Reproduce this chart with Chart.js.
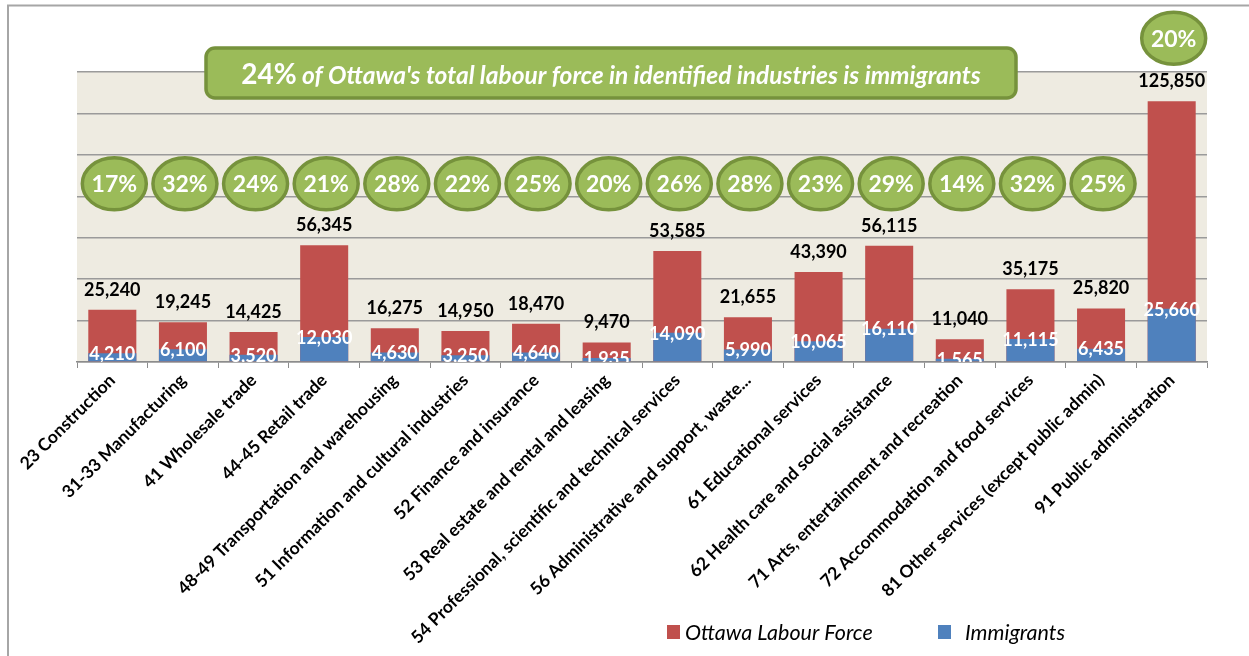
<!DOCTYPE html>
<html>
<head>
<meta charset="utf-8">
<script src="https://cdn.jsdelivr.net/npm/chart.js@4/dist/chart.umd.min.js"></script>
<style>
  body { margin: 0; background: #fff; }
  #wrap { width: 1249px; height: 656px; position: relative; }
</style>
</head>
<body>
<div id="wrap"><canvas id="labourChart"></canvas></div>
<script>
const industries = [
    "23 Construction",
    "31-33 Manufacturing",
    "41 Wholesale trade",
    "44-45 Retail trade",
    "48-49 Transportation and warehousing",
    "51 Information and cultural industries",
    "52 Finance and insurance",
    "53 Real estate and rental and leasing",
    "54 Professional, scientific and technical services",
    "56 Administrative and support, waste...",
    "61 Educational services",
    "62 Health care and social assistance",
    "71 Arts, entertainment and recreation",
    "72 Accommodation and food services",
    "81 Other services (except public admin)",
    "91 Public administration"
];
const labourForce = [25240, 19245, 14425, 56345, 16275, 14950, 18470, 9470, 53585, 21655, 43390, 56115, 11040, 35175, 25820, 125850];
const immigrants = [4210, 6100, 3520, 12030, 4630, 3250, 4640, 1935, 14090, 5990, 10065, 16110, 1565, 11115, 6435, 25660];
const immigrantShare = ["17%", "32%", "24%", "21%", "28%", "22%", "25%", "20%", "26%", "28%", "23%", "29%", "14%", "32%", "25%", "20%"];
const yMin = 0;
const yMax = 140000;
const yStep = 20000;
const badgeLevel = 86000;
const headlineShare = "24%";
const headlineText = " of Ottawa's total labour force in identified industries is immigrants";

const RED = "#C0504D";
const BLUE = "#4F81BD";
const GREEN = "#9BBB59";
const GREEN_DARK = "#76923C";
const FONT = "Lato, 'Open Sans', sans-serif";

const fmt = v => v.toLocaleString("en-US");

const overlay = {
    id: "overlay",
    beforeDraw(chart) {
        const { ctx, chartArea: a } = chart;
        ctx.save();
        ctx.fillStyle = "#fff";
        ctx.fillRect(0, 0, chart.width, chart.height);
        ctx.fillStyle = "#EEEBE1";
        ctx.fillRect(a.left, a.top, a.right - a.left, a.bottom - a.top);
        ctx.restore();
    },
    afterDatasetsDraw(chart) {
        const { ctx, chartArea: a } = chart;
        const totals = chart.getDatasetMeta(0).data;
        const imms = chart.getDatasetMeta(1).data;
        ctx.save();
        ctx.textAlign = "center";
        ctx.textBaseline = "middle";

        // totals above red bars
        ctx.fillStyle = "#000";
        ctx.font = "bold 18px " + FONT;
        totals.forEach((bar, i) => {
            ctx.fillText(fmt(labourForce[i]), bar.x, bar.y - 20);
        });

        // immigrant values at top of blue bars (clipped to plot area)
        ctx.save();
        ctx.beginPath();
        ctx.rect(a.left, a.top, a.right - a.left, a.bottom - a.top);
        ctx.clip();
        ctx.fillStyle = "#fff";
        ctx.font = "bold 18px " + FONT;
        imms.forEach((bar, i) => {
            ctx.fillText(fmt(immigrants[i]), bar.x, bar.y + 1);
        });
        ctx.restore();

        // share badges
        const yScale = chart.scales.y;
        const levelY = yScale.getPixelForValue(badgeLevel);
        totals.forEach((bar, i) => {
            let cy = levelY;
            if (bar.y - 32 < levelY + 27) cy = bar.y - 63;
            ctx.beginPath();
            ctx.ellipse(bar.x + 2, cy, 32, 26, 0, 0, Math.PI * 2);
            ctx.fillStyle = GREEN;
            ctx.fill();
            ctx.lineWidth = 3.5;
            ctx.strokeStyle = GREEN_DARK;
            ctx.stroke();
            ctx.fillStyle = "#fff";
            ctx.font = "bold 23px " + FONT;
            ctx.fillText(immigrantShare[i], bar.x + 2, cy + 1);
        });
        ctx.restore();
    },
    afterDraw(chart) {
        const { ctx } = chart;
        ctx.save();

        // headline banner
        const bx = 206, by = 48, bw = 810, bh = 50;
        ctx.beginPath();
        ctx.roundRect(bx, by, bw, bh, 9);
        ctx.fillStyle = GREEN;
        ctx.fill();
        ctx.lineWidth = 3.5;
        ctx.strokeStyle = GREEN_DARK;
        ctx.stroke();

        ctx.fillStyle = "#fff";
        ctx.textBaseline = "alphabetic";
        ctx.textAlign = "left";
        const f1 = "bold 28px " + FONT;
        const f2 = "italic bold 24.5px " + FONT;
        ctx.font = f1;
        const w1 = ctx.measureText(headlineShare).width;
        ctx.font = f2;
        const w2 = ctx.measureText(headlineText).width;
        let tx = bx + bw / 2 - (w1 + w2) / 2;
        ctx.font = f1;
        ctx.fillText(headlineShare, tx, 84);
        ctx.font = f2;
        ctx.fillText(headlineText, tx + w1, 84);

        // legend
        const items = chart.data.datasets;
        const legendX = [667, 938];
        const legendTextX = [685, 965];
        ctx.font = "italic 21.5px " + FONT;
        items.forEach((ds, i) => {
            ctx.fillStyle = ds.backgroundColor;
            ctx.fillRect(legendX[i], 625, 13, 14);
            ctx.fillStyle = "#000";
            ctx.fillText(ds.label, legendTextX[i], 640);
        });

        // outer frame
        ctx.beginPath();
        ctx.moveTo(8, chart.height);
        ctx.lineTo(8, 5.5);
        ctx.lineTo(chart.width, 5.5);
        ctx.lineWidth = 2;
        ctx.strokeStyle = "#A6A6A6";
        ctx.stroke();
        ctx.restore();
    }
};

new Chart(document.getElementById("labourChart"), {
    type: "bar",
    data: {
        labels: industries,
        datasets: [{
            label: "Ottawa Labour Force",
            data: labourForce,
            backgroundColor: RED,
            grouped: false,
            order: 2,
            barPercentage: 0.68,
            categoryPercentage: 1
        }, {
            label: "Immigrants",
            data: immigrants,
            backgroundColor: BLUE,
            grouped: false,
            order: 1,
            barPercentage: 0.68,
            categoryPercentage: 1
        }]
    },
    options: {
        responsive: true,
        maintainAspectRatio: false,
        animation: false,
        layout: { padding: { top: 72, right: 42, left: 0, bottom: 0 } },
        plugins: {
            legend: { display: false },
            tooltip: { enabled: false }
        },
        scales: {
            x: {
                offset: true,
                grid: {
                    offset: true,
                    drawOnChartArea: false,
                    drawTicks: true,
                    tickLength: 6,
                    color: "#8C8C8C"
                },
                border: { color: "#8C8C8C", width: 1.5 },
                ticks: {
                    autoSkip: false,
                    maxRotation: 45,
                    minRotation: 45,
                    padding: 2,
                    color: "#000",
                    font: { family: FONT, size: 17.5, weight: "bold" }
                },
                afterFit(scale) { scale.height = 294; }
            },
            y: {
                min: yMin,
                max: yMax,
                ticks: { stepSize: yStep, display: false },
                grid: { color: "#9A9A9A", lineWidth: 1.5, drawTicks: false },
                border: { display: false },
                afterFit(scale) { scale.width = 77; }
            }
        }
    },
    plugins: [overlay]
});
</script>
</body>
</html>
